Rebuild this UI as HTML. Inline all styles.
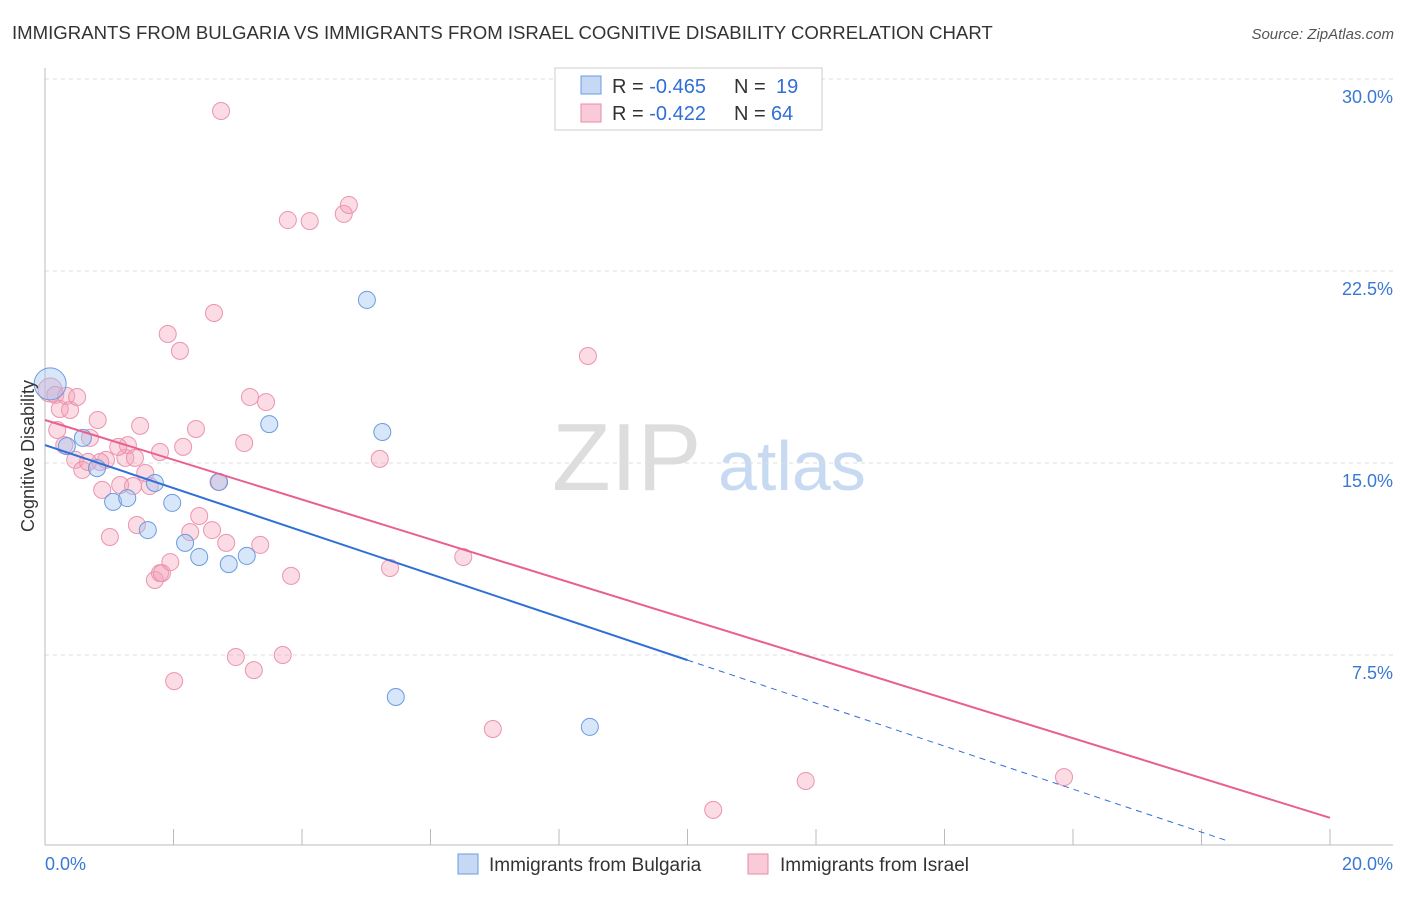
<!DOCTYPE html>
<html><head><meta charset="utf-8"><style>
body{margin:0;background:#fff;font-family:"Liberation Sans",sans-serif;}
svg text{font-family:"Liberation Sans",sans-serif;}
</style></head><body>
<svg id="chart" width="1406" height="892">
<text x="12" y="39" font-size="18.6" fill="#333">IMMIGRANTS FROM BULGARIA VS IMMIGRANTS FROM ISRAEL COGNITIVE DISABILITY CORRELATION CHART</text>
<text x="1394" y="39" font-size="15" fill="#555" font-style="italic" text-anchor="end">Source: ZipAtlas.com</text>
<g>
<text x="552" y="490" font-size="96" fill="#ddd" font-family="Liberation Serif, serif">ZIP</text>
<text x="718" y="490" font-size="70" fill="#c8daf2">atlas</text>
</g>
<g id="grid"></g>
<g id="axes"></g>
<g id="marks"></g>
<text transform="translate(34,456) rotate(-90)" font-size="18" fill="#333" text-anchor="middle">Cognitive Disability</text>
<g>
<rect x="555" y="68" width="267" height="62" fill="#fff" stroke="#ccc"/>
<rect x="581" y="76" width="20" height="18" fill="#c5d9f5" stroke="#6a9be0"/>
<rect x="581" y="104" width="20" height="18" fill="#f9cad8" stroke="#ea8aa8"/>
<text x="612" y="93" font-size="20" fill="#333">R = <tspan fill="#2f6fd6">-0.465</tspan></text>
<text x="734" y="93" font-size="20" fill="#333">N =</text>
<text x="776" y="93" font-size="20" fill="#2f6fd6">19</text>
<text x="612" y="120" font-size="20" fill="#333">R = <tspan fill="#2f6fd6">-0.422</tspan></text>
<text x="734" y="120" font-size="20" fill="#333">N =</text>
<text x="771" y="120" font-size="20" fill="#2f6fd6">64</text>
</g>
<g>
<rect x="458" y="854" width="20" height="20" fill="#c5d9f5" stroke="#6a9be0"/>
<text x="489" y="871" font-size="19" fill="#333">Immigrants from Bulgaria</text>
<rect x="748" y="854" width="20" height="20" fill="#f9cad8" stroke="#ea8aa8"/>
<text x="780" y="871" font-size="19" fill="#333">Immigrants from Israel</text>
</g>
</svg>
<script>
const yTicks=[30,22.5,15,7.5];
const yTickLabels=["30.0%","22.5%","15.0%","7.5%"];
const xTickLabels=["0.0%","20.0%"];
const bulgariaX=[0.08,0.34,0.59,0.81,1.06,1.28,1.60,1.71,1.98,2.18,2.40,2.71,2.86,3.14,3.49,5.01,5.25,5.46,8.48];
const bulgariaY=[18.09,15.66,15.98,14.8,13.48,13.63,12.38,14.22,13.44,11.88,11.33,14.26,11.05,11.37,16.52,21.37,16.21,5.86,4.69];
const israelX=[0.08,0.16,0.19,0.23,0.33,0.39,0.50,0.47,0.58,0.70,0.82,0.67,0.89,1.01,0.95,1.17,1.25,1.29,1.14,1.37,1.43,1.48,1.56,1.63,1.71,1.79,1.82,1.95,1.79,1.91,2.10,2.15,2.01,2.26,2.35,2.40,2.60,2.63,2.74,2.82,2.97,3.10,3.19,3.25,3.35,3.44,3.70,3.78,3.83,4.12,4.65,4.73,5.21,5.37,6.51,6.97,8.45,10.40,11.84,15.86,0.30,0.86,1.40,2.70];
const israelY=[17.85,17.66,16.29,17.11,17.62,17.07,17.58,15.12,14.73,15.98,16.68,15.04,13.95,12.11,15.12,14.14,15.20,15.70,15.63,14.10,12.58,16.45,14.61,14.10,10.43,10.70,10.70,11.13,15.43,20.04,19.38,15.63,6.48,12.30,16.33,12.93,12.38,20.86,28.75,11.88,7.42,15.78,17.58,6.91,11.80,17.38,7.50,24.49,10.59,24.45,24.73,25.08,15.16,10.90,11.33,4.61,19.18,1.45,2.58,2.73,15.70,15.04,15.20,14.26];
const bulgariaTrend=[15.70,-0.84];
const israelTrend=[16.68,-0.777];
const NS="http://www.w3.org/2000/svg";
const X=v=>45+v*64.25, Y=v=>79+(30-v)*25.6;
function mk(t,a,p){const e=document.createElementNS(NS,t);for(const k in a)e.setAttribute(k,a[k]);p.appendChild(e);return e;}
const grid=document.getElementById('grid'),axes=document.getElementById('axes'),marks=document.getElementById('marks');
yTicks.forEach((t,i)=>{
 const l=mk('line',{x1:45,x2:1393,y1:Y(t),y2:Y(t),stroke:'#ddd','stroke-dasharray':'4,4'},grid);
 
 
 const tx=mk('text',{x:1393,y:Y(t)+24,'font-size':18,fill:'#3a78d4','text-anchor':'end'},axes);
 tx.textContent=yTickLabels[i];
 
 
});
const ax=mk('line',{x1:45,x2:1393,y1:845,y2:845,stroke:'#bbb'},axes);


const ay=mk('line',{x1:45,x2:45,y1:68,y2:845,stroke:'#bbb'},axes);


for(let i=1;i<=10;i++){const t=mk('line',{x1:X(i*2),x2:X(i*2),y1:829,y2:845,stroke:'#bbb'},axes);
 
 }
[[0,'start',45],[20,'end',1393]].forEach((d,i)=>{const t=mk('text',{x:d[2],y:870,'font-size':18,fill:'#3a78d4','text-anchor':d[1]},axes);
 t.textContent=xTickLabels[i];
 
 });
israelX.forEach((x,i)=>{const c=mk('circle',{cx:X(x),cy:Y(israelY[i]),r:i==0?12:8.5,fill:'rgba(245,160,185,0.38)',stroke:'#eb94b0','stroke-width':1},marks);
 
 });
bulgariaX.forEach((x,i)=>{const c=mk('circle',{cx:X(x),cy:Y(bulgariaY[i]),r:i==0?16:8.5,fill:'rgba(160,195,240,0.42)',stroke:'#6a9be0','stroke-width':1},marks);
 
 });
const bl=mk('line',{x1:X(0),y1:Y(bulgariaTrend[0]),x2:X(10),y2:Y(bulgariaTrend[0]+10*bulgariaTrend[1]),stroke:'#2f6fd6','stroke-width':2},marks);


const bd=mk('line',{x1:X(10),y1:Y(bulgariaTrend[0]+10*bulgariaTrend[1]),x2:X(18.4),y2:Y(bulgariaTrend[0]+18.4*bulgariaTrend[1]),stroke:'#2f6fd6','stroke-width':1,'stroke-dasharray':'6,5'},marks);


const pl=mk('line',{x1:X(0),y1:Y(israelTrend[0]),x2:X(20),y2:Y(israelTrend[0]+20*israelTrend[1]),stroke:'#e8608f','stroke-width':2},marks);


</script>
</body></html>
